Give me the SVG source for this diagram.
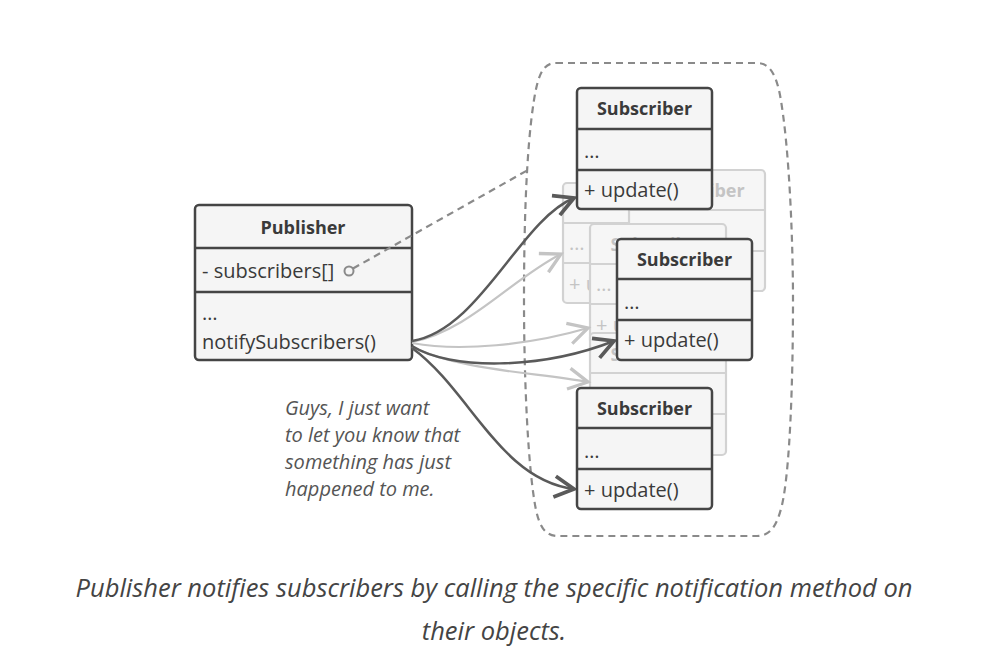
<svg xmlns="http://www.w3.org/2000/svg" width="985" height="670" viewBox="0 0 985 670">
<style>
  .box { fill: #f5f5f5; stroke: #454545; stroke-width: 2.5; }
  .sep { stroke: #454545; stroke-width: 2.5; }
  .fbox { fill: #f6f6f6; stroke: #d2d2d2; stroke-width: 2.2; }
  .fsep { stroke: #d2d2d2; stroke-width: 2.2; }
  .title { font-family: "Open Sans", "Noto Sans", sans-serif; font-weight: bold; font-size: 18px; fill: #3a3a3a; text-anchor: middle; }
  .ftitle { font-family: "Open Sans", "Noto Sans", sans-serif; font-weight: bold; font-size: 18px; fill: #c4c4c4; text-anchor: middle; }
  .mem { font-family: "Open Sans", "Noto Sans", sans-serif; font-size: 20px; fill: #3a3a3a; }
  .fmem { font-family: "Open Sans", "Noto Sans", sans-serif; font-size: 20px; fill: #c4c4c4; }
  .note { font-family: "Open Sans", "Noto Sans", sans-serif; font-style: italic; font-size: 20px; fill: #555; }
  .caption { font-family: "Open Sans", "Noto Sans", sans-serif; font-style: italic; font-size: 25.5px; fill: #444; text-anchor: middle; }
  .dark { fill: none; stroke: #5a5a5a; stroke-width: 2.5; marker-end: url(#arrD); }
  .light { fill: none; stroke: #c4c4c4; stroke-width: 2.2; marker-end: url(#arrL); }
  .dash { fill: none; stroke: #8a8a8a; stroke-width: 2.2; stroke-dasharray: 7 5; }
</style>
<defs>
  <marker id="arrD" markerUnits="userSpaceOnUse" markerWidth="30" markerHeight="30" refX="0" refY="0" viewBox="-16 -10 20 20" orient="auto" overflow="visible">
    <path d="M-13,-7 L0,0 L-13,7" fill="none" stroke="#5a5a5a" stroke-width="2.5"/>
  </marker>
  <marker id="arrL" markerUnits="userSpaceOnUse" markerWidth="30" markerHeight="30" refX="0" refY="0" viewBox="-16 -10 20 20" orient="auto" overflow="visible">
    <path d="M-13,-7 L0,0 L-13,7" fill="none" stroke="#c4c4c4" stroke-width="2.2"/>
  </marker>
</defs>

<!-- dashed group outline -->
<path id="group-outline" class="dash" d="M556,63 H757 C770,63 776,75 780,95 C790,150 793,250 793,300 C793,380 790,470 782,505 C777,526 770,536 757,536 H558 C546,536 540,528 536,510 C528,470 524,380 524,300 C524,230 526,150 534,100 C538,75 543,63 556,63 Z"/>

<!-- faded subscriber copies (only the visible fragments carry text) -->
<g id="faded-subscriber-b">
  <rect class="fbox" x="563" y="183" width="136" height="120" rx="4"/>
  <line class="fsep" x1="563" y1="223" x2="699" y2="223"/>
  <line class="fsep" x1="563" y1="263" x2="699" y2="263"/>
  <text class="fmem" x="569" y="250">…</text>
  <text class="fmem" x="569" y="291">+ update()</text>
</g>
<g id="faded-subscriber-a">
  <rect class="fbox" x="629" y="170" width="136" height="121" rx="4"/>
  <line class="fsep" x1="629" y1="210" x2="765" y2="210"/>
  <line class="fsep" x1="629" y1="251" x2="765" y2="251"/>
  <text class="ftitle" x="697" y="197">Subscriber</text>
</g>
<g id="faded-subscriber-c">
  <rect class="fbox" x="590" y="224" width="136" height="120" rx="4"/>
  <line class="fsep" x1="590" y1="264" x2="726" y2="264"/>
  <line class="fsep" x1="590" y1="304" x2="726" y2="304"/>
  <text class="ftitle" x="658" y="251">Subscriber</text>
  <text class="fmem" x="596" y="291">…</text>
  <text class="fmem" x="596" y="332">+ update()</text>
</g>
<g id="faded-subscriber-d">
  <rect class="fbox" x="590" y="333" width="136" height="122" rx="4"/>
  <line class="fsep" x1="590" y1="373" x2="726" y2="373"/>
  <line class="fsep" x1="590" y1="414" x2="726" y2="414"/>
  <text class="ftitle" x="658" y="361">Subscriber</text>
</g>

<!-- publisher -->
<g id="publisher">
  <rect class="box" x="195" y="205" width="217" height="155" rx="4"/>
  <line class="sep" x1="195" y1="248" x2="412" y2="248"/>
  <line class="sep" x1="195" y1="292" x2="412" y2="292"/>
  <text class="title" x="303" y="234">Publisher</text>
  <text class="mem" x="202" y="278">- subscribers[]</text>
  <text class="mem" x="202" y="320">…</text>
  <text class="mem" x="202" y="349">notifySubscribers()</text>
</g>

<!-- connectors -->
<g id="connectors">
  <circle cx="349" cy="271" r="4.5" fill="none" stroke="#8a8a8a" stroke-width="2"/>
  <path class="dash" d="M353,268.5 L528,170"/>
  <path class="light" d="M412,342 C470,330 510,280 561,254"/>
  <path class="light" d="M412,343 C460,352 530,345 588,328"/>
  <path class="light" d="M412,347 C460,370 530,372 588,382"/>
  <path class="dark" d="M412,341 C480,330 520,220 574,198"/>
  <path class="dark" d="M412,346 C450,370 540,370 614,341"/>
  <path class="dark" d="M412,348 C470,390 500,480 574,489"/>
</g>

<!-- subscribers -->
<g id="subscriber-1">
  <rect class="box" x="577" y="88" width="135" height="121" rx="4"/>
  <line class="sep" x1="577" y1="129" x2="712" y2="129"/>
  <line class="sep" x1="577" y1="170" x2="712" y2="170"/>
  <text class="title" x="644.5" y="115">Subscriber</text>
  <text class="mem" x="584" y="158">…</text>
  <text class="mem" x="584" y="197">+ update()</text>
</g>
<g id="subscriber-2">
  <rect class="box" x="617" y="239" width="135" height="121" rx="4"/>
  <line class="sep" x1="617" y1="279" x2="752" y2="279"/>
  <line class="sep" x1="617" y1="320" x2="752" y2="320"/>
  <text class="title" x="684.5" y="266">Subscriber</text>
  <text class="mem" x="624" y="309">…</text>
  <text class="mem" x="624" y="347">+ update()</text>
</g>
<g id="subscriber-3">
  <rect class="box" x="577" y="388" width="135" height="121" rx="4"/>
  <line class="sep" x1="577" y1="428" x2="712" y2="428"/>
  <line class="sep" x1="577" y1="469" x2="712" y2="469"/>
  <text class="title" x="644.5" y="415">Subscriber</text>
  <text class="mem" x="584" y="458">…</text>
  <text class="mem" x="584" y="497">+ update()</text>
</g>

<!-- note -->
<g id="note">
  <text class="note" x="285" y="415">Guys, I just want</text>
  <text class="note" x="285" y="442">to let you know that</text>
  <text class="note" x="285" y="469">something has just</text>
  <text class="note" x="285" y="496">happened to me.</text>
</g>

<!-- caption -->
<text class="caption" x="494" y="597">Publisher notifies subscribers by calling the specific notification method on</text>
<text class="caption" x="494" y="640">their objects.</text>
</svg>
